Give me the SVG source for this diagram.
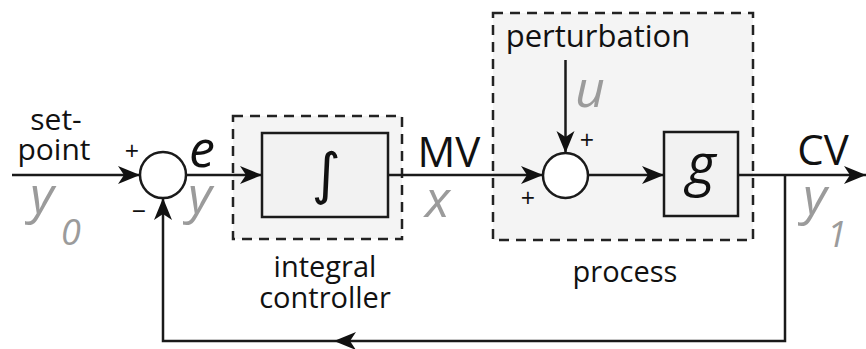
<svg xmlns="http://www.w3.org/2000/svg" width="866" height="349" viewBox="0 0 866 349">
<style>
.ln{stroke:#1a1a1a;stroke-width:2.5;fill:none}
.dash{fill:#f4f4f4;stroke:#222;stroke-width:2.5;stroke-dasharray:10 7}
.blk{fill:#f2f2f2;stroke:#1a1a1a;stroke-width:2.5}
.sum{fill:#fff;stroke:#1a1a1a;stroke-width:2.5}
.lbl{font-family:"Open Sans","Liberation Sans",sans-serif;font-size:29px;fill:#111}
.big{font-family:"Open Sans","Liberation Sans",sans-serif;font-size:42px;fill:#111}
.sg{font-family:"Open Sans","Liberation Sans",sans-serif;font-size:25px;fill:#111}
.it{font-family:"Open Sans","Liberation Sans",sans-serif;font-style:italic;font-size:52px}
.gr{fill:#9b9b9b}
.bk{fill:#111}
.sub{font-family:"Open Sans","Liberation Sans",sans-serif;font-style:italic;font-size:36px;fill:#9b9b9b}
</style>
<defs>
<marker id="ah" viewBox="-22 -10 24 20" refX="0" refY="0" markerWidth="24" markerHeight="20" markerUnits="userSpaceOnUse" orient="auto">
<path d="M0,0 L-22,-9 L-16,0 L-22,9 Z" fill="#111"/>
</marker>
</defs>
<g id="integral-controller">
<rect class="dash" x="233" y="116" width="169" height="123"/>
<rect class="blk" x="262" y="133" width="126" height="84"/>
<text x="326" y="193" text-anchor="middle" style="font-family:'DejaVu Sans',sans-serif;font-size:56px;fill:#111">∫</text>
<text class="lbl" x="325" y="277" text-anchor="middle">integral</text>
<text class="lbl" x="325" y="308" text-anchor="middle">controller</text>
</g>
<g id="process">
<rect class="dash" x="493" y="13" width="260" height="227"/>
<rect class="blk" x="664" y="132" width="74" height="84"/>
<text class="it bk" x="701" y="184" text-anchor="middle" style="font-size:56px">g</text>
<text class="lbl" x="598" y="47" text-anchor="middle" style="font-size:31px">perturbation</text>
<text class="it gr" x="575" y="107">u</text>
<text class="lbl" x="625" y="282" text-anchor="middle">process</text>
</g>
<g id="sum1">
<circle class="sum" cx="163" cy="175" r="23"/>
<text class="sg" x="132" y="160" text-anchor="middle">+</text>
<text class="sg" x="139" y="220" text-anchor="middle">−</text>
</g>
<g id="sum2">
<circle class="sum" cx="565.5" cy="175.5" r="22.5"/>
<text class="sg" x="587" y="149" text-anchor="middle">+</text>
<text class="sg" x="528" y="207" text-anchor="middle">+</text>
</g>
<g id="connectors">
<line class="ln" x1="12" y1="175" x2="140" y2="175" marker-end="url(#ah)"/>
<line class="ln" x1="186" y1="175" x2="262" y2="175" marker-end="url(#ah)"/>
<line class="ln" x1="388" y1="175" x2="543" y2="175" marker-end="url(#ah)"/>
<line class="ln" x1="565.5" y1="60" x2="565.5" y2="153" marker-end="url(#ah)"/>
<line class="ln" x1="588" y1="175" x2="664" y2="175" marker-end="url(#ah)"/>
<line class="ln" x1="738" y1="175" x2="866" y2="175" marker-end="url(#ah)"/>
<polyline class="ln" points="785,175 785,341 163,341 163,198" marker-end="url(#ah)"/>
<path d="M334,341 L356,332 L350,341 L356,350 Z" fill="#111"/>
</g>
<g id="labels">
<text class="lbl" x="56" y="130" text-anchor="middle" style="font-size:30px">set-</text>
<text class="lbl" x="54" y="160" text-anchor="middle" style="font-size:30px">point</text>
<text class="it gr" x="30" y="213">y</text>
<text class="sub" x="61" y="245">0</text>
<text class="it bk" x="189" y="167">e</text>
<text class="it gr" x="188" y="213">y</text>
<text class="big" x="449" y="167" text-anchor="middle">MV</text>
<text class="it gr" x="425" y="217">x</text>
<text class="big" x="823" y="165" text-anchor="middle">CV</text>
<text class="it gr" x="803" y="214">y</text>
<text class="sub" x="827" y="247">1</text>
</g>
</svg>
